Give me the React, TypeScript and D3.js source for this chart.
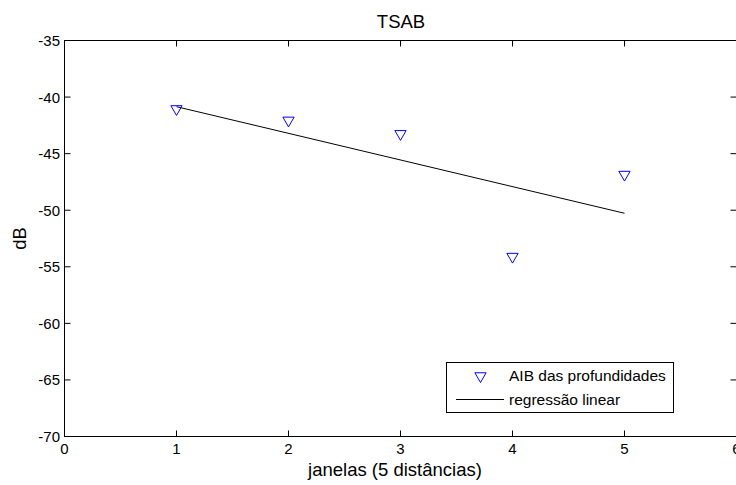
import React from "react";
import * as d3 from "d3";

const xTicks = [0, 1, 2, 3, 4, 5, 6];
const yTicks = [-35, -40, -45, -50, -55, -60, -65, -70];
const pointX = [1, 2, 3, 4, 5];
const pointY = [-41.05, -42.06, -43.25, -54.1, -46.85];
const lineX = [1, 5];
const lineY = [-40.85, -50.27];
const legendLabels = ["AIB das profundidades", "regressão linear"];
const title = "TSAB";
const xLabel = "janelas (5 distâncias)";
const yLabel = "dB";

const W = 736;
const H = 485;
const left = 64.5;
const right = 736.5;
const top = 40.5;
const bottom = 436.5;
const FONT = "'Liberation Sans', Arial, Helvetica, sans-serif";

export default function App() {
  if (typeof document !== "undefined") {
    document.body.style.margin = "0";
    document.body.style.overflow = "hidden";
  }
  const x = d3.scaleLinear().domain([0, 6]).range([left, right]);
  const y = d3.scaleLinear().domain([-70, -35]).range([bottom, top]);
  const r = 6.5;
  const tri = (cx: number, cy: number) =>
    `M${cx - r * 0.866},${cy - r * 0.5} L${cx + r * 0.866},${cy - r * 0.5} L${cx},${cy + r} Z`;
  const line = d3
    .line<number>()
    .x((_, i) => x(lineX[i]))
    .y((d) => y(d));
  const tickLen = 6;

  return (
    <svg
      width={W}
      height={H}
      style={{ position: "absolute", left: 0, top: 0, background: "#fff" }}
      fontFamily={FONT}
    >
      <rect x={0} y={0} width={W} height={H} fill="#fff" />
      {/* x ticks */}
      {xTicks.map((t) => (
        <g key={"xt" + t}>
          <line x1={x(t)} x2={x(t)} y1={bottom} y2={bottom - tickLen} stroke="#000" />
          <line x1={x(t)} x2={x(t)} y1={top} y2={top + tickLen} stroke="#000" />
          <text x={x(t)} y={454} fontSize={15} textAnchor="middle" fill="#000">
            {t}
          </text>
        </g>
      ))}
      {/* y ticks */}
      {yTicks.map((t) => (
        <g key={"yt" + t}>
          <line x1={left} x2={left + tickLen} y1={y(t)} y2={y(t)} stroke="#000" />
          <line x1={right} x2={right - tickLen} y1={y(t)} y2={y(t)} stroke="#000" />
          <text x={60} y={y(t) + 5.5} fontSize={15} textAnchor="end" fill="#000">
            {t}
          </text>
        </g>
      ))}
      {/* box */}
      <rect x={left} y={top} width={right - left} height={bottom - top} fill="none" stroke="#000" />
      {/* regression line */}
      <path d={line(lineY) || ""} fill="none" stroke="#000" strokeWidth={1} />
      {/* points */}
      {pointX.map((px, i) => (
        <path key={"p" + i} d={tri(x(px), y(pointY[i]))} fill="none" stroke="#0000ff" strokeWidth={1} />
      ))}
      {/* title */}
      <text x={401} y={27.5} fontSize={18.5} textAnchor="middle" fill="#000">
        {title}
      </text>
      {/* x label */}
      <text x={395} y={476} fontSize={18.5} textAnchor="middle" fill="#000">
        {xLabel}
      </text>
      {/* y label */}
      <text
        transform={`translate(25.5,${(top + bottom) / 2}) rotate(-90)`}
        fontSize={18.5}
        textAnchor="middle"
        fill="#000"
      >
        {yLabel}
      </text>
      {/* legend */}
      <rect x={446.5} y={362.5} width={227} height={50} fill="#fff" stroke="#000" />
      <path d={tri(480.5, 376)} fill="none" stroke="#0000ff" strokeWidth={1} />
      <text x={509} y={381} fontSize={15.5} fill="#000">
        {legendLabels[0]}
      </text>
      <line x1={456} x2={504} y1={399.5} y2={399.5} stroke="#000" />
      <text x={509} y={404.5} fontSize={15.5} fill="#000">
        {legendLabels[1]}
      </text>
    </svg>
  );
}
